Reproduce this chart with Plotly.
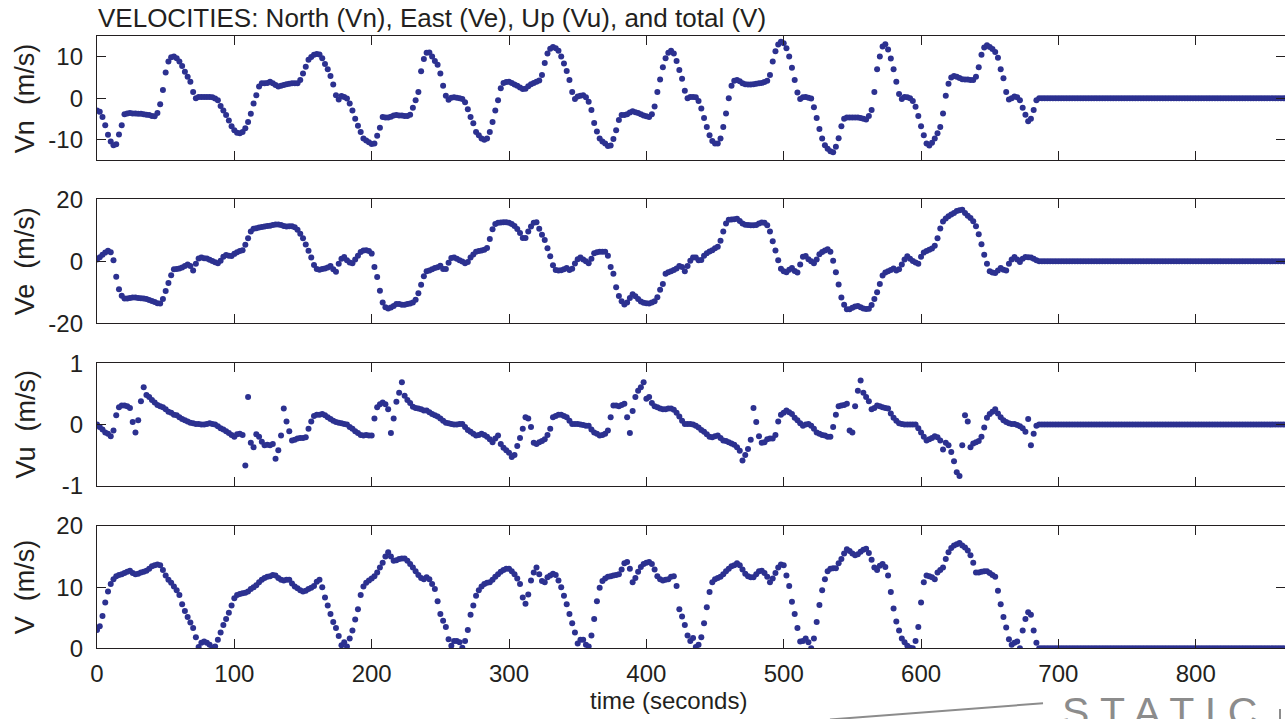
import plotly.graph_objects as go

# ---- data: GPS velocity record, one sample every 2 s while moving, then static ----
t_moving = list(range(0, 686, 2))
t_static = list(range(686, 866, 2))

vn_moving = [
    -3.0, -3.3, -4.6, -6.6, -8.9, -10.5, -11.4, -11.2, -8.8, -6.6,
    -3.9, -3.7, -3.6, -3.7, -3.7, -3.8, -3.8, -3.9, -4.0, -4.1,
    -4.3, -4.4, -3.6, -1.5, 2.0, 6.2, 8.9, 9.9, 10.1, 9.7,
    8.9, 7.8, 6.4, 5.2, 4.0, 1.5, 0.0, 0.3, 0.3, 0.3,
    0.3, 0.3, 0.2, -0.1, -0.5, -1.9, -3.0, -4.1, -5.4, -6.8,
    -7.8, -8.4, -8.5, -8.2, -7.3, -5.8, -3.8, -1.3, 0.7, 2.8,
    3.6, 3.6, 3.7, 4.0, 3.6, 3.2, 2.8, 3.0, 3.2, 3.4,
    3.5, 3.6, 3.6, 3.6, 4.4, 6.0, 7.6, 9.3, 10.0, 10.5,
    10.7, 10.6, 9.7, 8.3, 7.0, 5.4, 3.3, 0.7, -0.3, 0.5,
    0.3, -0.1, -1.3, -3.0, -5.0, -6.7, -8.2, -9.8, -10.3, -10.7,
    -11.1, -11.0, -9.1, -7.2, -4.6, -4.7, -4.7, -4.5, -4.2, -4.1,
    -4.2, -4.2, -4.3, -4.3, -4.0, -2.3, -0.5, 1.5, 6.5, 9.5,
    11.0, 11.1, 10.1, 9.0, 8.1, 6.0, 3.0, 0.6, -0.4, 0.1,
    0.2, 0.1, 0.0, -0.2, -1.0, -2.7, -4.6, -6.1, -8.2, -9.0,
    -9.8, -10.1, -9.8, -8.2, -5.8, -3.0, -0.5, 2.4, 3.7, 3.9,
    4.0, 3.7, 3.3, 3.0, 2.6, 2.2, 2.3, 2.9, 3.4, 3.7,
    4.0, 4.3, 5.6, 8.5, 10.8, 12.0, 12.4, 12.1, 11.5, 10.1,
    8.4, 6.6, 4.4, 1.5, -0.2, 0.4, 0.6, 0.7, 0.2, -0.9,
    -2.9, -6.0, -8.1, -9.8, -10.5, -11.0, -11.6, -11.5, -9.9, -7.8,
    -5.3, -4.1, -4.1, -3.9, -3.5, -3.2, -3.4, -3.6, -3.9, -4.2,
    -4.4, -4.6, -3.9, -2.0, 1.5, 4.5, 7.5, 9.7, 11.0, 11.5,
    10.8, 9.0, 6.8, 4.7, 1.8, 0.0, 0.3, 0.3, 0.2, -0.7,
    -2.5, -4.8, -7.0, -9.0, -10.4, -11.0, -11.0, -9.8, -7.0, -3.7,
    0.0, 3.0, 4.2, 4.4, 4.1, 3.6, 3.4, 3.3, 3.3, 3.4,
    3.5, 3.6, 3.7, 3.9, 4.2, 5.6, 8.9, 11.4, 13.0, 13.7,
    13.3, 12.1, 10.1, 7.4, 4.4, 1.4, -0.2, 0.2, 0.3, 0.1,
    -0.1, -2.2, -4.8, -7.5, -9.8, -11.4, -12.3, -12.9, -13.1, -11.8,
    -9.7, -6.8, -5.0, -4.7, -4.7, -4.7, -4.7, -4.7, -4.8, -5.0,
    -5.2, -4.3, -2.9, 1.5, 7.0, 10.1, 12.5, 13.1, 11.8, 9.6,
    7.0, 4.0, 1.0, -0.2, 0.3, 0.2, 0.0, -0.7, -2.1, -4.3,
    -6.8, -9.0, -11.0, -11.5, -10.8, -9.8, -8.5, -7.0, -3.7, 0.6,
    3.5, 5.0, 5.4, 5.2, 4.9, 4.6, 4.5, 4.5, 4.4, 4.4,
    5.2, 7.5, 10.5, 12.3, 12.8, 12.4, 11.9, 11.2, 9.8, 7.0,
    4.8, 1.5, -0.3, 0.0, 0.4, 0.2, -0.5, -2.3, -4.0, -5.6,
    -5.0, -2.9, -0.5,
]

ve_moving = [
    0.6, 1.3, 2.1, 2.8, 3.4, 2.9, 0.3, -5.0, -9.0, -11.1,
    -12.0, -12.0, -11.8, -11.7, -11.7, -11.8, -11.9, -12.0, -12.2, -12.5,
    -12.8, -13.1, -13.5, -13.6, -12.2, -9.6, -7.0, -4.5, -2.6, -2.5,
    -2.3, -2.0, -1.5, -1.0, -1.5, -3.0, -0.8, 0.9, 1.2, 1.0,
    0.9, 0.5, 0.1, -0.3, -0.6, 0.2, 1.5, 2.0, 1.8, 1.7,
    2.4, 2.9, 3.3, 3.6, 5.3, 7.4, 9.6, 10.5, 10.7, 10.9,
    11.1, 11.2, 11.4, 11.5, 11.7, 11.9, 11.9, 11.7, 11.4, 11.2,
    11.3, 11.3, 11.0, 10.2, 8.9, 7.4, 5.4, 3.4, 1.2, -1.2,
    -2.5, -2.7, -2.5, -2.3, -2.0, -1.5, -2.6, -3.4, -0.8, 0.8,
    1.4, 0.3, -0.4, -0.6, 0.6, 1.8, 3.0, 3.5, 3.6, 3.3,
    2.5, -1.8, -5.1, -9.5, -13.3, -14.8, -15.2, -14.9, -14.4, -13.8,
    -13.8, -14.0, -14.0, -13.8, -13.6, -13.3, -12.4, -10.3, -7.6, -4.8,
    -3.2, -3.0, -2.6, -2.2, -1.9, -1.4, -2.5, -2.5, -0.5, 1.1,
    1.2, 0.8, 0.3, -0.1, -0.6, -0.2, 1.2, 2.2, 3.1, 3.3,
    3.5, 3.7, 4.3, 7.2, 10.3, 12.0, 12.4, 12.5, 12.6, 12.6,
    12.4, 12.0, 11.4, 10.4, 9.1, 7.5, 7.5, 9.6, 11.2, 12.4,
    12.6, 10.5, 8.6, 6.9, 4.2, 1.6, -1.3, -2.8, -3.0, -2.9,
    -2.6, -2.2, -2.8, -2.4, -0.7, 0.7, 1.2, 0.6, 0.0, -0.6,
    0.8, 2.6, 2.9, 3.1, 3.1, 3.1, 1.8, -1.8, -4.0, -8.4,
    -11.2, -12.9, -13.9, -13.3, -11.8, -10.6, -11.3, -12.2, -13.0, -13.4,
    -13.5, -13.6, -13.3, -12.9, -11.6, -9.2, -7.3, -4.0, -3.5, -3.2,
    -2.8, -2.3, -1.5, -1.8, -3.2, -1.5, 0.2, 1.2, 1.2, 0.3,
    0.4, 1.8, 2.6, 3.2, 3.6, 4.2, 4.7, 6.6, 9.6, 12.2,
    13.4, 13.5, 13.6, 13.7, 13.0, 12.2, 11.8, 11.7, 11.6, 11.6,
    11.7, 12.2, 12.5, 12.4, 11.6, 9.6, 6.5, 3.5, 0.3, -2.4,
    -3.2, -3.5, -2.7, -2.2, -3.1, -3.6, -1.0, 1.5, 1.7, 0.7,
    0.0, -0.6, 0.6, 2.3, 3.0, 3.5, 3.9, 3.1, 0.2, -3.5,
    -7.5, -11.7, -14.0, -15.5, -15.5, -15.0, -14.6, -14.4, -14.8, -15.2,
    -15.4, -15.3, -14.1, -12.2, -10.0, -7.3, -4.6, -3.6, -3.2, -2.8,
    -2.3, -3.0, -2.6, -1.0, 0.6, 1.6, 0.8, 0.1, -0.4, -0.8,
    1.5, 2.8, 3.3, 3.7, 4.1, 5.0, 7.4, 10.6, 12.8, 13.8,
    14.5, 15.1, 15.6, 16.2, 16.5, 16.6, 15.6, 14.7, 14.0, 12.9,
    11.3, 8.7, 5.5, 2.1, -0.8, -3.2, -3.6, -3.8, -3.0, -2.2,
    -2.7, -3.0, -0.8, 0.6, 1.4, 0.6, -0.2, 0.8, 1.4, 1.3,
    1.2, 0.8, 0.3,
]

vu_moving = [
    0.00, -0.04, -0.08, -0.13, -0.15, -0.19, -0.10, 0.15, 0.28, 0.31,
    0.31, 0.30, 0.27, 0.04, -0.13, 0.07, 0.38, 0.61, 0.48, 0.45,
    0.40, 0.36, 0.32, 0.30, 0.28, 0.25, 0.21, 0.19, 0.16, 0.15,
    0.12, 0.09, 0.07, 0.05, 0.03, 0.02, 0.01, 0.01, 0.00, 0.00,
    0.01, 0.02, 0.01, 0.00, -0.03, -0.06, -0.08, -0.11, -0.14, -0.17,
    -0.20, -0.16, -0.15, -0.17, -0.67, 0.45, -0.30, -0.37, -0.16, -0.20,
    -0.28, -0.34, -0.33, -0.34, -0.32, -0.56, -0.42, -0.18, 0.26, 0.05,
    -0.11, -0.26, -0.25, -0.23, -0.22, -0.22, -0.21, -0.07, 0.05, 0.14,
    0.16, 0.16, 0.17, 0.15, 0.12, 0.09, 0.06, 0.04, 0.03, 0.02,
    0.01, 0.00, -0.04, -0.07, -0.11, -0.14, -0.17, -0.18, -0.17, -0.18,
    -0.18, 0.10, 0.28, 0.33, 0.36, 0.33, 0.25, -0.14, 0.10, 0.37,
    0.52, 0.69, 0.47, 0.40, 0.35, 0.29, 0.27, 0.26, 0.25, 0.23,
    0.23, 0.20, 0.17, 0.15, 0.13, 0.10, 0.06, 0.03, 0.02, 0.01,
    0.00, 0.00, 0.01, 0.01, -0.04, -0.09, -0.12, -0.15, -0.18, -0.17,
    -0.15, -0.17, -0.20, -0.24, -0.29, -0.23, -0.18, -0.32, -0.38, -0.42,
    -0.46, -0.53, -0.50, -0.35, -0.22, -0.07, 0.12, 0.10, -0.04, -0.30,
    -0.32, -0.29, -0.27, -0.24, -0.17, -0.07, 0.12, 0.14, 0.16, 0.16,
    0.14, 0.12, 0.06, 0.01, 0.01, 0.01, 0.00, -0.01, -0.02, -0.02,
    -0.08, -0.13, -0.15, -0.18, -0.17, -0.15, -0.10, 0.12, 0.31, 0.31,
    0.30, 0.32, 0.34, 0.12, -0.14, 0.22, 0.45, 0.55, 0.61, 0.69,
    0.42, 0.45, 0.35, 0.30, 0.28, 0.26, 0.25, 0.25, 0.26, 0.26,
    0.24, 0.19, 0.13, 0.06, 0.01, 0.01, 0.01, 0.00, -0.02, -0.05,
    -0.09, -0.12, -0.16, -0.20, -0.21, -0.19, -0.18, -0.22, -0.26, -0.27,
    -0.29, -0.31, -0.33, -0.37, -0.43, -0.59, -0.50, -0.40, -0.25, 0.27,
    0.04, -0.19, -0.30, -0.29, -0.24, -0.23, -0.23, -0.17, 0.05, 0.16,
    0.19, 0.23, 0.20, 0.17, 0.11, 0.07, 0.02, -0.02, 0.00, 0.01,
    -0.02, -0.07, -0.13, -0.15, -0.17, -0.18, -0.20, -0.20, -0.04, 0.16,
    0.30, 0.31, 0.32, 0.34, -0.10, -0.13, 0.30, 0.55, 0.72, 0.52,
    0.45, 0.38, 0.25, 0.27, 0.31, 0.30, 0.28, 0.27, 0.26, 0.18,
    0.11, 0.06, 0.02, 0.01, 0.00, 0.00, 0.00, 0.00, 0.00, -0.06,
    -0.13, -0.20, -0.26, -0.24, -0.22, -0.19, -0.21, -0.26, -0.41, -0.30,
    -0.34, -0.45, -0.60, -0.78, -0.84, -0.34, 0.15, 0.05, -0.37, -0.31,
    -0.29, -0.27, -0.20, -0.05, 0.11, 0.17, 0.21, 0.25, 0.18, 0.12,
    0.07, 0.04, 0.02, 0.01, 0.01, -0.01, -0.03, -0.06, -0.12, 0.09,
    -0.34, -0.15, -0.02,
]

v_moving = [
    3.0, 3.6, 5.3, 7.5, 9.3, 10.5, 11.3, 11.8, 12.0, 12.1,
    12.3, 12.5, 12.7, 12.3, 12.1, 12.2, 12.4, 12.5, 12.7, 13.0,
    13.4, 13.6, 13.7, 13.6, 12.8, 11.9, 11.2, 10.7, 10.1, 9.5,
    8.7, 7.2, 6.1, 5.1, 4.2, 3.3, 1.8, 0.2, 0.9, 1.1,
    0.9, 0.6, 0.1, 0.3, 1.4, 2.6, 3.8, 4.8, 5.8, 7.0,
    8.2, 8.7, 8.9, 9.0, 9.1, 9.3, 9.7, 10.0, 10.3, 10.8,
    11.2, 11.5, 11.7, 11.8, 12.0, 11.9, 11.5, 11.2, 11.1, 11.2,
    11.2, 10.6, 10.1, 9.8, 9.5, 9.3, 9.4, 9.7, 9.9, 10.2,
    10.9, 11.2, 10.0, 8.3, 7.0, 5.6, 4.3, 3.3, 2.0, 0.5,
    1.0, 0.3, 1.6, 2.9, 4.7, 6.4, 8.7, 10.1, 10.7, 11.1,
    11.4, 11.8, 12.4, 13.2, 14.0, 15.0, 15.7, 15.0, 14.3, 14.4,
    14.6, 14.7, 14.7, 14.3, 13.8, 13.2, 12.6, 12.0, 11.5, 11.3,
    11.6, 11.3, 10.5, 9.7, 7.7, 5.6, 4.5, 3.5, 1.5, 0.4,
    1.2, 1.2, 1.0, 0.1, 1.2, 3.0, 5.5, 7.0, 8.6, 9.5,
    10.1, 10.5, 10.7, 10.8, 11.2, 11.7, 12.1, 12.5, 12.8, 13.0,
    13.0, 12.6, 12.1, 11.4, 10.5, 8.3, 7.3, 8.8, 11.1, 12.4,
    13.2, 12.1, 11.0, 10.8, 11.6, 11.9, 12.2, 12.0, 11.1, 10.0,
    8.6, 7.2, 5.6, 4.1, 2.6, 0.8, 1.4, 1.4, 0.6, 0.3,
    2.1, 4.8, 7.7, 9.9, 11.0, 11.4, 11.7, 11.8, 11.9, 12.0,
    12.1, 12.9, 13.9, 14.1, 13.0, 10.8, 11.5, 12.5, 13.3, 13.8,
    14.0, 14.1, 13.8, 12.9, 11.8, 11.3, 11.1, 11.2, 11.3, 11.7,
    11.8, 10.2, 6.4, 5.2, 3.8, 2.1, 1.2, 1.7, 0.2, 0.6,
    1.8, 4.1, 6.7, 9.2, 10.8, 11.3, 11.5, 11.7, 12.1, 12.6,
    13.0, 13.4, 13.6, 13.9, 13.6, 12.9, 12.2, 11.8, 11.6, 11.6,
    12.1, 12.6, 12.7, 12.3, 11.7, 10.8, 11.4, 12.3, 13.2, 13.7,
    13.6, 11.9, 10.2, 7.6, 5.6, 3.3, 1.1, 1.2, 1.6, 1.0,
    0.0, 1.6, 4.3, 7.1, 9.5, 11.3, 12.6, 13.0, 13.1, 13.1,
    13.9, 14.6, 15.5, 16.2, 15.9, 15.5, 15.2, 15.4, 15.8, 16.1,
    16.3, 15.6, 14.5, 13.2, 12.8, 13.5, 13.8, 13.3, 11.9, 9.2,
    6.5, 4.4, 2.9, 1.6, 1.0, 0.4, 0.1, 0.0, 1.2, 3.5,
    7.5, 10.8, 11.9, 11.8, 11.6, 11.3, 12.4, 12.8, 13.2, 14.6,
    15.7, 16.4, 16.8, 17.0, 17.2, 16.8, 16.5, 16.0, 15.2, 14.0,
    12.4, 12.4, 12.5, 12.6, 12.6, 12.3, 12.0, 11.7, 9.4, 7.2,
    5.1, 3.4, 1.5, 0.6, 0.9, 1.1, 0.0, 2.9, 4.8, 5.9,
    5.5, 2.9, 0.9,
]

# receiver at rest: every component reads zero
static_zero = [0.0] * len(t_static)

for arr in (vn_moving, ve_moving, vu_moving, v_moving):
    assert len(arr) == len(t_moving), len(arr)

time = t_moving + t_static
panels = [
    ("Vn", vn_moving + static_zero, [-15, 15], [-10, 0, 10], ["-10", "0", "10"]),
    ("Ve", ve_moving + static_zero, [-20, 20], [-20, 0, 20], ["-20", "0", "20"]),
    ("Vu", vu_moving + static_zero, [-1, 1], [-1, 0, 1], ["-1", "0", "1"]),
    ("V", v_moving + static_zero, [0, 20], [0, 10, 20], ["0", "10", "20"]),
]
x_ticks = [0, 100, 200, 300, 400, 500, 600, 700, 800]

# ---- styling ----
W, H = 1285, 719
LEFT = 97
PLOT_W = W - LEFT
FONT = "Liberation Sans, Arial, Helvetica, sans-serif"
INK = "#231f20"
DOT = "#2c3190"
GREY = "#8c8c8c"

# panel extents in pixels (top, bottom)
panel_px = [(36.3, 160.0), (199.3, 323.3), (363.3, 485.7), (526.0, 648.3)]

def py(p):
    return 1 - p / H

def px(p):
    return (p - LEFT) / PLOT_W

fig = go.Figure()
layout = dict(
    width=W, height=H,
    margin=dict(l=LEFT, r=0, t=0, b=0, pad=0),
    paper_bgcolor="white", plot_bgcolor="white",
    showlegend=False,
    font=dict(family=FONT, color=INK, size=22),
)

annotations = []
for i, (name, vals, rng, tv, tt) in enumerate(panels):
    k = i + 1
    sfx = "" if k == 1 else str(k)
    fig.add_trace(go.Scatter(
        x=time, y=vals, mode="markers",
        marker=dict(size=6, color=DOT, line=dict(width=0)),
        xaxis="x" + sfx, yaxis="y" + sfx, hoverinfo="skip",
        cliponaxis=True,
    ))
    top, bot = panel_px[i]
    layout["xaxis" + sfx] = dict(
        domain=[0, 1], anchor="y" + sfx, range=[0, 865],
        tickvals=x_ticks, ticktext=[str(v) for v in x_ticks],
        showticklabels=(k == 4),
        ticks="inside", ticklen=9, tickwidth=1.3, tickcolor=INK,
        showline=True, linecolor=INK, linewidth=1.3, mirror="ticks",
        showgrid=False, zeroline=False, automargin=False,
        tickfont=dict(size=24, family=FONT, color=INK),
        ticklabelstandoff=4,
    )
    layout["yaxis" + sfx] = dict(
        domain=[py(bot), py(top)], anchor="x" + sfx, range=rng,
        tickvals=tv, ticktext=tt,
        ticks="inside", ticklen=9, tickwidth=1.3, tickcolor=INK,
        showline=True, linecolor=INK, linewidth=1.3, mirror="ticks",
        showgrid=False, zeroline=False, automargin=False,
        tickfont=dict(size=24, family=FONT, color=INK),
        ticklabelstandoff=8,
    )
    annotations.append(dict(
        text=name + "\u00a0\u00a0(m/s)", textangle=-90,
        xref="paper", yref="paper", x=px(25), y=py((top + bot) / 2),
        xanchor="center", yanchor="middle", showarrow=False,
        font=dict(size=27, family=FONT, color=INK),
    ))

annotations += [
    dict(text="VELOCITIES: North (Vn), East (Ve), Up (Vu), and total (V)",
         xref="paper", yref="paper", x=px(96), y=py(18),
         xanchor="left", yanchor="middle", showarrow=False,
         font=dict(size=26, family=FONT, color=INK)),
    dict(text="time (seconds)",
         xref="paper", yref="paper", x=px(668), y=py(700),
         xanchor="center", yanchor="middle", showarrow=False,
         font=dict(size=24, family=FONT, color=INK)),
    dict(text="S T A T I C",
         xref="paper", yref="paper", x=px(1060), y=py(687),
         xanchor="left", yanchor="top", showarrow=False,
         font=dict(size=41, family=FONT, color=GREY)),
]
layout["annotations"] = annotations
layout["shapes"] = [
    dict(type="line", xref="paper", yref="paper",
         x0=px(830), y0=py(719.5), x1=px(1043), y1=py(703.3),
         line=dict(color=GREY, width=2)),
    dict(type="line", xref="paper", yref="paper",
         x0=px(1280), y0=py(709), x1=px(1280), y1=py(720),
         line=dict(color=GREY, width=2)),
]

fig.update_layout(**layout)
fig.write_html("out.html")
